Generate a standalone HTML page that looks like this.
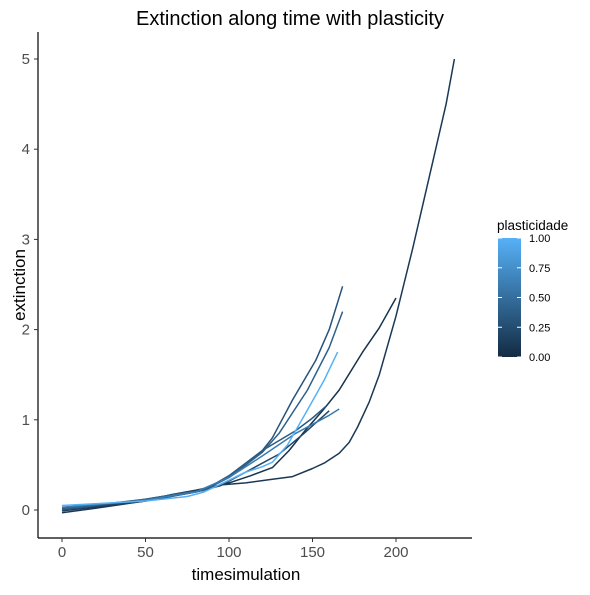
<!DOCTYPE html>
<html><head><meta charset="utf-8"><style>
body{margin:0;background:#fff}
svg{font-family:"Liberation Sans",Arial,sans-serif}
</style></head><body>
<svg width="590" height="590" xmlns="http://www.w3.org/2000/svg">
<defs><linearGradient id="g" x1="0" y1="1" x2="0" y2="0"><stop offset="0" stop-color="#132B43"/><stop offset="1" stop-color="#56B1F7"/></linearGradient></defs>
<text x="290" y="25" text-anchor="middle" font-size="20" fill="#000">Extinction along time with plasticity</text>
<line x1="38" y1="32" x2="38" y2="538" stroke="#000" stroke-width="1.2"/>
<line x1="38" y1="538" x2="472" y2="538" stroke="#000" stroke-width="1.2"/>
<g id="xt"></g>
<g id="yt"></g>
<g id="lines"></g>
<text x="246" y="580" text-anchor="middle" font-size="17">timesimulation</text>
<text transform="translate(25,285) rotate(-90)" text-anchor="middle" font-size="17">extinction</text>
<g>
<text x="497" y="230" font-size="13.5">plasticidade</text>
<rect x="498" y="238" width="23" height="119" fill="url(#g)"/>
<g id="lt"></g>
</g>
</svg>
<script>
const xTicks=[0,50,100,150,200];
const yTicks=[0,1,2,3,4,5];
const legendTicks=[0,0.25,0.5,0.75,1];
const legendLabels=["0.00","0.25","0.50","0.75","1.00"];
const plast=[0.1,0.05,0.3,0.4,1.0,0.35,0.2,0.6];
const times=[
[0,20,50,65,80,96,110,126,138,150,157,166,172,177,184,190,200,210,220,230,235],
[0,50,80,100,113,126,136,146,156,166,180,190,200],
[0,50,70,85,100,110,120,126,138,152,160,168],
[0,50,70,85,100,110,120,130,147,160,168],
[0,50,75,85,100,110,120,126,135,147,157,165],
[0,50,70,85,100,120,140,150,158],
[0,50,80,95,110,130,145,160],
[0,50,80,100,120,140,150,160,166]];
const vals=[
[-0.03,0.02,0.1,0.17,0.22,0.28,0.3,0.34,0.37,0.46,0.52,0.63,0.75,0.92,1.2,1.5,2.15,2.9,3.7,4.5,5.0],
[-0.01,0.1,0.2,0.3,0.38,0.47,0.66,0.89,1.1,1.33,1.75,2.02,2.35],
[0,0.12,0.18,0.22,0.36,0.5,0.66,0.8,1.22,1.66,2.0,2.48],
[0.01,0.12,0.18,0.22,0.36,0.5,0.64,0.85,1.33,1.8,2.2],
[0.05,0.1,0.15,0.2,0.33,0.42,0.48,0.53,0.72,1.11,1.44,1.75],
[0.02,0.11,0.17,0.22,0.38,0.66,0.88,1.02,1.15],
[0,0.1,0.2,0.27,0.42,0.62,0.85,1.1],
[0.03,0.11,0.2,0.36,0.6,0.85,0.95,1.05,1.12]];
const X=t=>62+t*1.67, Y=v=>510-v*90.2;
function col(p){const a=[0x13,0x2B,0x43],b=[0x56,0xB1,0xF7];return "rgb("+a.map((c,i)=>Math.round(c+(b[i]-c)*p)).join(",")+")";}
const NS="http://www.w3.org/2000/svg";
function mk(tag,attrs,parent,txt){const e=document.createElementNS(NS,tag);for(const k in attrs)e.setAttribute(k,attrs[k]);if(txt!==undefined)e.textContent=txt;parent.appendChild(e);return e;}
const xt=document.getElementById('xt'),yt=document.getElementById('yt'),lg=document.getElementById('lines'),lt=document.getElementById('lt');
xTicks.forEach(t=>{
 const l=mk('line',{x1:X(t),x2:X(t),y1:538,y2:542,stroke:'#333'},xt);
 
 
 const s=mk('text',{x:X(t),y:557,'text-anchor':'middle','font-size':15,fill:'#4d4d4d'},xt,t);
 
 
});
yTicks.forEach(v=>{
 const l=mk('line',{x1:34,x2:38,y1:Y(v),y2:Y(v),stroke:'#333'},yt);
 
 
 const s=mk('text',{x:30,y:Y(v)+5,'text-anchor':'end','font-size':15,fill:'#4d4d4d'},yt,v);
 
 
});
const order=plast.map((p,i)=>i).sort((a,b)=>plast[a]-plast[b]);
order.forEach(i=>{
 const d=times[i].map((t,j)=>(j?'L':'M')+X(t).toFixed(1)+','+Y(vals[i][j]).toFixed(1)).join('');
 const p=mk('path',{d:d,fill:'none',stroke:col(plast[i]),'stroke-width':1.5,'stroke-linejoin':'round'},lg);
 
 
});
legendTicks.forEach((v,i)=>{
 const y=357-v*119;
 mk('line',{x1:498,x2:502,y1:y,y2:y,stroke:'#fff'},lt);
 mk('line',{x1:517,x2:521,y1:y,y2:y,stroke:'#fff'},lt);
 const s=mk('text',{x:529,y:y+4,'font-size':11},lt,legendLabels[i]);
 
 
});
</script>
</body></html>
